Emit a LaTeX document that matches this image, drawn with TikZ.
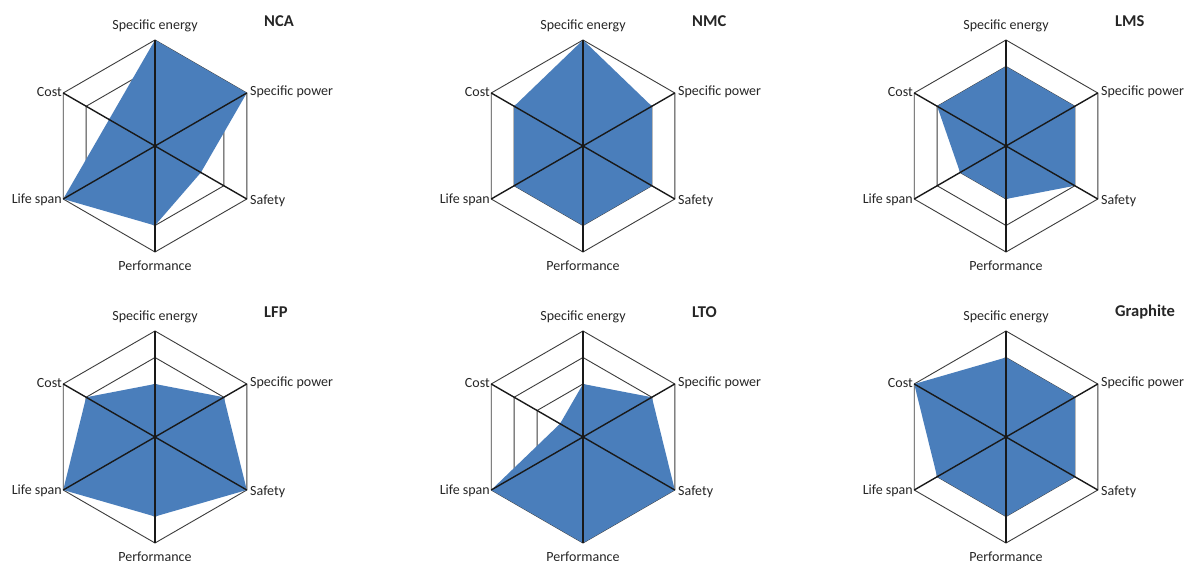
\documentclass[tikz,border=0pt]{standalone}
\usepackage{fontspec}
\setmainfont{Carlito}
\definecolor{radarblue}{RGB}{74,126,187}
\definecolor{gridgray}{RGB}{60,60,60}
\tikzset{
  gridline/.style={draw=gridgray,line width=0.9pt,line join=miter},
  spoke/.style={draw=black!90,line width=1.4pt},
  radarfill/.style={fill=radarblue},
  axislabel/.style={font=\fontsize{14}{16}\selectfont,inner sep=0pt,text=black!85},
  charttitle/.style={font=\fontsize{16.5}{18}\selectfont\bfseries,inner sep=0pt,anchor=west,text=black!85}
}
\newcommand\radarchart[9]{%
\begin{scope}[shift={#2}]
  \coordinate (#1-c) at (0,0);
  \coordinate (#1-v1) at (90:106);
  \coordinate (#1-v2) at (30:106);
  \coordinate (#1-v3) at (-30:106);
  \coordinate (#1-v4) at (-90:106);
  \coordinate (#1-v5) at (-150:106);
  \coordinate (#1-v6) at (150:106);
  \foreach \l in {1,2,3}{
    \draw[gridline] (90:\l*26.5) -- (30:\l*26.5) -- (-30:\l*26.5) -- (-90:\l*26.5) -- (-150:\l*26.5) -- (150:\l*26.5) -- cycle;
  }
  \draw[gridline] (#1-v1) -- (#1-v2) -- (#1-v3) -- (#1-v4) -- (#1-v5) -- (#1-v6) -- cycle;
  \fill[radarfill] (90:#4*26.5) -- (30:#5*26.5) -- (-30:#6*26.5) -- (-90:#7*26.5) -- (-150:#8*26.5) -- (150:#9*26.5) -- cycle;
  \draw[spoke] (#1-v1) -- (#1-v4);
  \draw[spoke] (#1-v2) -- (#1-v5);
  \draw[spoke] (#1-v3) -- (#1-v6);
  \node[axislabel,anchor=center] (#1-se) at (0,120) {Specific energy};
  \node[axislabel,anchor=west] (#1-sp) at (95,54) {Specific power};
  \node[axislabel,anchor=west] (#1-sa) at (95,-55) {Safety};
  \node[axislabel,anchor=center] (#1-pe) at (0,-120) {Performance};
  \node[axislabel,anchor=east] (#1-ls) at (-93,-54) {Life span};
  \node[axislabel,anchor=east] (#1-co) at (-93,54) {Cost};
  \node[charttitle] (#1-t) at (109,125) {#3};
\end{scope}}
\begin{document}
\begin{tikzpicture}[x=1pt,y=1pt]
\useasboundingbox[fill=white] (0,-561) rectangle (1192,0);
\radarchart{nca}{(155,-146)}{NCA}{4}{4}{2}{3}{4}{2}
\radarchart{nmc}{(583,-146)}{NMC}{4}{3}{3}{3}{3}{3}
\radarchart{lms}{(1006,-146)}{LMS}{3}{3}{3}{2}{2}{3}
\radarchart{lfp}{(155,-437)}{LFP}{2}{3}{4}{3}{4}{3}
\radarchart{lto}{(583,-437)}{LTO}{2}{3}{4}{4}{4}{1}
\radarchart{gra}{(1006,-437)}{Graphite}{3}{3}{3}{3}{3}{4}
\end{tikzpicture}
\end{document}
